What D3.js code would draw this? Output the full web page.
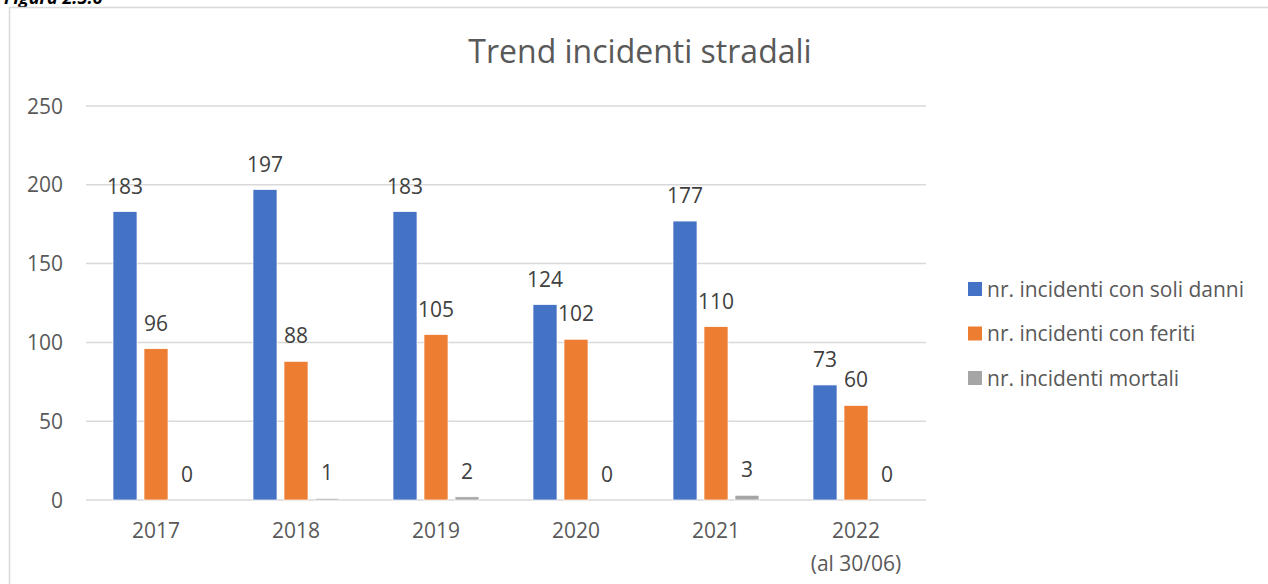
<!DOCTYPE html>
<html>
<head>
<meta charset="utf-8">
<script src="https://cdn.jsdelivr.net/npm/d3@7"></script>
<style>
  body { margin: 0; background: #fff; }
  svg { display: block; font-family: "Open Sans", sans-serif; }
</style>
</head>
<body>
<svg id="chart" width="1268" height="584"></svg>
<script>
// chart data
const years = ['2017', '2018', '2019', '2020', '2021', '2022'];
const yearSub = ['', '', '', '', '', '(al 30/06)'];
const seriesNames = ['nr. incidenti con soli danni', 'nr. incidenti con feriti', 'nr. incidenti mortali'];
const soliDanni = [183, 197, 183, 124, 177, 73];
const feriti = [96, 88, 105, 102, 110, 60];
const mortali = [0, 1, 2, 0, 3, 0];
const yTicks = [0, 50, 100, 150, 200, 250];
const colors = ['#4472C4', '#ED7D31', '#A5A5A5'];

const seriesValues = [soliDanni, feriti, mortali];

const svg = d3.select('#chart');

// caption, cut off at the top like in the source page
svg.append('text')
  .attr('x', 4)
  .attr('y', 4)
  .attr('font-size', 18)
  .attr('font-weight', 'bold')
  .attr('font-style', 'italic')
  .attr('fill', '#000')
  .text('Figura 2.5.6');

// chart frame
svg.append('rect')
  .attr('x', 9.5)
  .attr('y', 7.5)
  .attr('width', 1300)
  .attr('height', 700)
  .attr('fill', 'none')
  .attr('stroke', '#d9d9d9')
  .attr('stroke-width', 1.5);

svg.append('text')
  .attr('x', 640)
  .attr('y', 63)
  .attr('text-anchor', 'middle')
  .attr('font-size', 32)
  .attr('fill', '#595959')
  .text('Trend incidenti stradali');

const x0 = d3.scaleBand().domain(years).range([86, 926]);
const x1 = d3.scaleBand().domain(seriesNames).range([0, 93])
  .paddingInner(7 / 31).paddingOuter(3.5 / 31);
const y = d3.scaleLinear().domain([0, 250]).range([500, 106]);

// gridlines
svg.append('g')
  .selectAll('line')
  .data(yTicks)
  .enter()
  .append('line')
  .attr('x1', 86)
  .attr('x2', 926)
  .attr('y1', d => y(d))
  .attr('y2', d => y(d))
  .attr('stroke', '#d9d9d9')
  .attr('stroke-width', 1.5);

// y tick labels
svg.append('g')
  .selectAll('text')
  .data(yTicks)
  .enter()
  .append('text')
  .attr('x', 63)
  .attr('y', d => y(d) + 7.5)
  .attr('text-anchor', 'end')
  .attr('font-size', 21)
  .attr('fill', '#595959')
  .text(d => d);

// x labels
const xl = svg.append('g')
  .selectAll('text')
  .data(years)
  .enter()
  .append('text')
  .attr('x', d => x0(d) + x0.bandwidth() / 2)
  .attr('y', 538)
  .attr('text-anchor', 'middle')
  .attr('font-size', 21)
  .attr('fill', '#595959');
xl.append('tspan').text(d => d);
xl.append('tspan')
  .attr('x', d => x0(d) + x0.bandwidth() / 2)
  .attr('dy', 33)
  .text((d, i) => yearSub[i]);

// bars and data labels
const groups = svg.append('g')
  .selectAll('g')
  .data(years)
  .enter()
  .append('g')
  .attr('transform', d => `translate(${x0(d) + x0.bandwidth() / 2 - 46.5},0)`);

const cells = groups.selectAll('g')
  .data((d, i) => seriesNames.map((s, k) => ({ series: s, k, value: seriesValues[k][i] })))
  .enter()
  .append('g');

cells.append('rect')
  .attr('x', d => x1(d.series))
  .attr('y', d => y(d.value))
  .attr('width', x1.bandwidth())
  .attr('height', d => y(0) - y(d.value))
  .attr('fill', d => colors[d.k])
  .attr('stroke', '#fff')
  .attr('stroke-width', 0.7);

cells.append('text')
  .attr('x', d => x1(d.series) + x1.bandwidth() / 2)
  .attr('y', d => y(d.value) - 18)
  .attr('text-anchor', 'middle')
  .attr('font-size', 21)
  .attr('fill', '#404040')
  .text(d => d.value);

// legend
const legend = svg.append('g')
  .selectAll('g')
  .data(seriesNames)
  .enter()
  .append('g')
  .attr('transform', (d, i) => `translate(968,${282 + i * 44.5})`);

legend.append('rect')
  .attr('width', 14)
  .attr('height', 14)
  .attr('fill', (d, i) => colors[i]);

legend.append('text')
  .attr('x', 19)
  .attr('y', 14.5)
  .attr('font-size', 21)
  .attr('fill', '#595959')
  .text(d => d);
</script>
</body>
</html>
